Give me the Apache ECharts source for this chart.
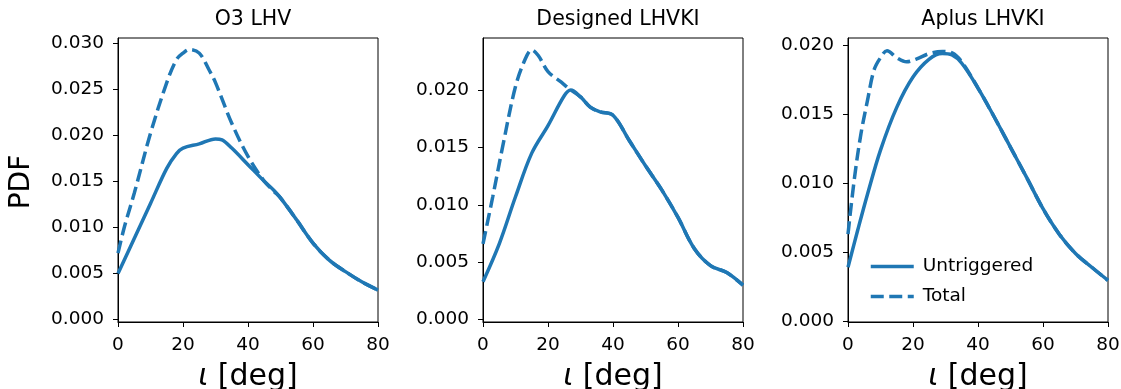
<!DOCTYPE html>
<html>
<head>
<meta charset="utf-8">
<script src="https://cdn.jsdelivr.net/npm/echarts@6/dist/echarts.min.js"></script>
<style>
  html, body { margin: 0; padding: 0; background: #fff; }
  #chart { width: 1121px; height: 389px; }
</style>
</head>
<body>
<div id="chart"></div>
<script>
// inclination angle samples [deg] and PDF values
const o3X = [0, 5, 10, 15, 18, 20, 25, 30, 32, 35, 40, 45, 48, 50, 55, 60, 65, 70, 75, 80];
const o3Untriggered = [0.0050, 0.0088, 0.0126, 0.0164, 0.0180, 0.0186, 0.01906, 0.0196, 0.0195, 0.0186, 0.0168, 0.0150, 0.0140, 0.0132, 0.0108, 0.0083, 0.00645, 0.0052, 0.0041, 0.0032];
const o3TotalX = [0, 2, 5, 10, 15, 18, 20, 22, 25, 28, 30, 35, 40, 45, 48, 50, 55, 60, 65, 70, 75, 80];
const o3Total = [0.0072, 0.0101, 0.0137, 0.0202, 0.0257, 0.0282, 0.0289, 0.0293, 0.0289, 0.0271, 0.0257, 0.0213, 0.0177, 0.0150, 0.0139, 0.0132, 0.0108, 0.0083, 0.00645, 0.0052, 0.0041, 0.0032];

const desX = [0, 5, 10, 15, 20, 25, 27, 30, 33, 36, 40, 45, 50, 55, 60, 65, 70, 75, 80];
const desUntriggered = [0.0033, 0.0066, 0.0107, 0.0145, 0.0169, 0.0195, 0.0200, 0.0194, 0.0185, 0.0181, 0.0178, 0.0156, 0.0134, 0.0113, 0.0089, 0.0062, 0.0047, 0.0041, 0.0030];
const desTotalX = [0, 3, 6, 10, 13, 15, 17, 20, 24, 27, 30, 33, 36, 40, 45, 50, 55, 60, 65, 70, 75, 80];
const desTotal = [0.0066, 0.0107, 0.0150, 0.0203, 0.0227, 0.0235, 0.0230, 0.0216, 0.0207, 0.0200, 0.0194, 0.0185, 0.0181, 0.0178, 0.0156, 0.0134, 0.0113, 0.0089, 0.0062, 0.0047, 0.0041, 0.0030];

const apX = [0, 3, 6, 10, 15, 20, 25, 29, 32, 35, 40, 45, 50, 55, 60, 65, 70, 75, 80];
const apUntriggered = [0.0039, 0.0066, 0.0092, 0.0124, 0.0155, 0.0177, 0.0190, 0.0194, 0.0193, 0.0187, 0.0169, 0.0148, 0.0126, 0.0104, 0.00815, 0.0063, 0.0049, 0.0039, 0.00295];
const apTotalX = [0, 2, 4, 6, 8, 10, 12, 15, 18, 21, 25, 29, 32, 35, 40, 45, 50, 55, 60, 65, 70, 75, 80];
const apTotal = [0.0063, 0.0104, 0.0136, 0.0160, 0.0182, 0.0191, 0.0196, 0.0191, 0.0188, 0.0190, 0.0194, 0.01955, 0.01945, 0.0188, 0.0169, 0.0148, 0.0126, 0.0104, 0.00815, 0.0063, 0.0049, 0.0039, 0.00295];

const xTicks = [0, 20, 40, 60, 80];
const o3YTicks = [0, 0.005, 0.010, 0.015, 0.020, 0.025, 0.030];
const desYTicks = [0, 0.005, 0.010, 0.015, 0.020];
const apYTicks = [0, 0.005, 0.010, 0.015, 0.020];
const titles = ['O3 LHV', 'Designed LHVKI', 'Aplus LHVKI'];

const blue = '#1f77b4';
const font = 'DejaVu Sans';

const panels = [
  { left: 118, ymin: -0.00026, ymax: 0.03054, ticks: o3YTicks, ux: o3X, uy: o3Untriggered, tx: o3TotalX, ty: o3Total },
  { left: 483, ymin: -0.00021, ymax: 0.02453, ticks: desYTicks, ux: desX, uy: desUntriggered, tx: desTotalX, ty: desTotal },
  { left: 848, ymin: -0.00007, ymax: 0.02053, ticks: apYTicks, ux: apX, uy: apUntriggered, tx: apTotalX, ty: apTotal }
];
const W = 260;

const pair = (xs, ys) => xs.map((x, i) => [x, ys[i]]);

const chart = echarts.init(document.getElementById('chart'));
chart.setOption({
  animation: false,
  textStyle: { fontFamily: font },
  title: panels.map((p, i) => ({
    text: titles[i],
    left: p.left + W / 2,
    top: 4,
    textAlign: 'center',
    textStyle: { fontFamily: font, fontSize: 20.5, fontWeight: 'normal', color: '#000' }
  })),
  legend: {
    orient: 'vertical',
    left: 864,
    top: 252,
    itemWidth: 43,
    itemHeight: 12,
    itemGap: 11,
    data: ['Untriggered', 'Total'],
    itemStyle: { opacity: 0 },
    lineStyle: { width: 3.5 },
    textStyle: { fontFamily: font, fontSize: 18.5, color: '#000', padding: [0, 0, 0, 4] }
  },
  grid: panels.map(p => ({
    left: p.left, top: 38, width: W, height: 284,
    outerBoundsMode: 'none',
    show: true, borderColor: '#000', borderWidth: 1, backgroundColor: 'transparent'
  })),
  xAxis: panels.map((p, i) => ({
    gridIndex: i,
    type: 'value',
    min: 0, max: 80,
    axisLine: { onZero: false, lineStyle: { color: '#000', width: 1 } },
    axisTick: { length: 5, customValues: xTicks, lineStyle: { color: '#000' } },
    axisLabel: { color: '#000', fontSize: 18.5, margin: 14, fontFamily: font, customValues: xTicks },
    splitLine: { show: false },
    name: '{i|ι} [deg]',
    nameLocation: 'middle',
    nameGap: 40,
    nameTextStyle: {
      color: '#000', fontSize: 30, fontFamily: font,
      rich: { i: { fontStyle: 'italic', fontSize: 30, fontFamily: font, color: '#000' } }
    }
  })),
  yAxis: panels.map((p, i) => ({
    gridIndex: i,
    type: 'value',
    min: p.ymin, max: p.ymax,
    axisLine: { onZero: false, lineStyle: { color: '#000', width: 1 } },
    axisTick: { length: 5, customValues: p.ticks, lineStyle: { color: '#000' } },
    axisLabel: {
      color: '#000', fontSize: 18.5, margin: 14, fontFamily: font,
      customValues: p.ticks,
      formatter: v => v.toFixed(3)
    },
    splitLine: { show: false }
  })),
  graphic: [{
    type: 'text',
    x: 22, y: 182,
    rotation: Math.PI / 2,
    style: { text: 'PDF', font: '28px "DejaVu Sans"', fill: '#000', textAlign: 'center', textVerticalAlign: 'middle' }
  }],
  series: panels.flatMap((p, i) => [
    {
      name: 'Untriggered', type: 'line', xAxisIndex: i, yAxisIndex: i,
      data: pair(p.ux, p.uy), smooth: 0.35, symbol: 'none', z: 3,
      lineStyle: { color: blue, width: 3.5 }, itemStyle: { color: blue }
    },
    {
      name: 'Total', type: 'line', xAxisIndex: i, yAxisIndex: i,
      data: pair(p.tx, p.ty), smooth: 0.35, symbol: 'none', z: 2,
      lineStyle: { color: blue, width: 3.5, type: [13, 5.5] }, itemStyle: { color: blue }
    }
  ])
});
</script>
</body>
</html>
